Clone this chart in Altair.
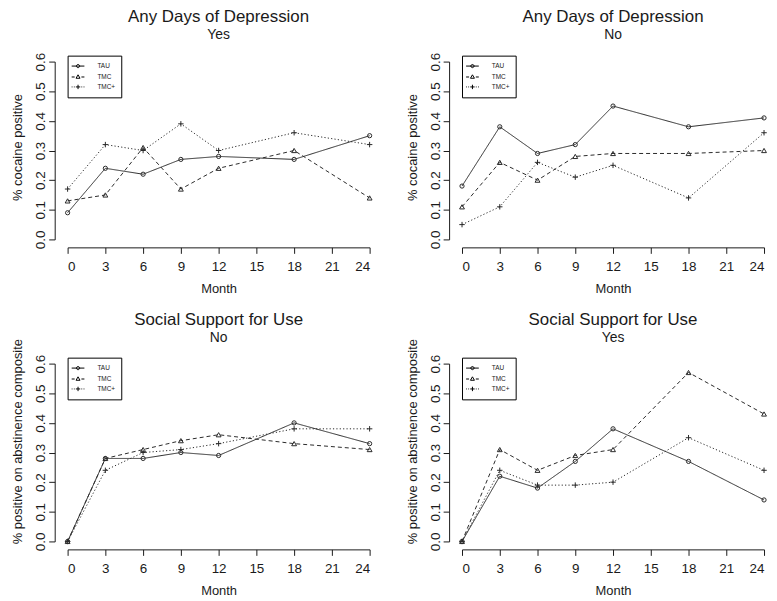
import altair as alt
import pandas as pd

months = [0, 3, 6, 9, 12, 18, 24]
groups = ["TAU", "TMC", "TMC+"]

dep_yes_tau = [0.09, 0.24, 0.22, 0.27, 0.28, 0.27, 0.35]
dep_yes_tmc = [0.13, 0.15, 0.31, 0.17, 0.24, 0.30, 0.14]
dep_yes_tmcp = [0.17, 0.32, 0.30, 0.39, 0.30, 0.36, 0.32]

dep_no_tau = [0.18, 0.38, 0.29, 0.32, 0.45, 0.38, 0.41]
dep_no_tmc = [0.11, 0.26, 0.20, 0.28, 0.29, 0.29, 0.30]
dep_no_tmcp = [0.05, 0.11, 0.26, 0.21, 0.25, 0.14, 0.36]

soc_no_tau = [0.00, 0.28, 0.28, 0.30, 0.29, 0.40, 0.33]
soc_no_tmc = [0.00, 0.28, 0.31, 0.34, 0.36, 0.33, 0.31]
soc_no_tmcp = [0.00, 0.24, 0.30, 0.31, 0.33, 0.38, 0.38]

soc_yes_tau = [0.00, 0.22, 0.18, 0.27, 0.38, 0.27, 0.14]
soc_yes_tmc = [0.00, 0.31, 0.24, 0.29, 0.31, 0.57, 0.43]
soc_yes_tmcp = [0.00, 0.24, 0.19, 0.19, 0.20, 0.35, 0.24]

x_ticks = [0, 3, 6, 9, 12, 15, 18, 21, 24]
y_ticks = [0.0, 0.1, 0.2, 0.3, 0.4, 0.5, 0.6]

FONT = "Liberation Sans"
INK = "#1a1a1a"
LINE = "#2a2a2a"

PLUS = "M-1,0H1M0,-1V1"
LEG_TAU = "M-1.6,0H1.6M0.4,0A0.4,0.4 0 1,1 -0.4,0A0.4,0.4 0 1,1 0.4,0Z"
LEG_TMC = "M-1.6,0H-0.85M0.85,0H1.6M0,-0.55L0.5,0.32L-0.5,0.32Z"
LEG_TMCP = "M-1.6,0H-1.4M-1.05,0H-0.85M0.85,0H1.05M1.4,0H1.6M-0.55,0H0.55M0,-0.55V0.55"


def make_df(tau, tmc, tmcp):
    rows = []
    for g, vals in zip(groups, [tau, tmc, tmcp]):
        for m, v in zip(months, vals):
            rows.append({"Month": m, "value": v, "group": g})
    return pd.DataFrame(rows)


def panel(df, title, subtitle, ytitle, title_y, title_offset):
    x = alt.X(
        "Month:Q",
        scale=alt.Scale(domain=[0, 24], nice=False, zero=False),
        axis=alt.Axis(values=x_ticks, title="Month", offset=8, tickSize=6,
                      labelPadding=6, titlePadding=10, grid=False, format="d"),
    )
    y = alt.Y(
        "value:Q",
        scale=alt.Scale(domain=[0, 0.6], nice=False, zero=False),
        axis=alt.Axis(values=y_ticks, format=".1f", title=ytitle, offset=13,
                      tickSize=6, labelAngle=270, labelAlign="center",
                      labelBaseline="alphabetic", labelPadding=4,
                      titlePadding=9, titleY=title_y, grid=False),
    )
    base = alt.Chart(df)
    lines = base.mark_line(color=LINE, strokeWidth=1).encode(
        x=x, y=y,
        strokeDash=alt.StrokeDash(
            "group:N",
            scale=alt.Scale(domain=groups, range=[[1, 0], [4, 3], [1.2, 2.2]]),
            legend=None,
        ),
    )
    points = base.mark_point(filled=False, color=LINE, strokeWidth=1,
                             opacity=1).encode(
        x=x, y=y,
        shape=alt.Shape(
            "group:N",
            scale=alt.Scale(domain=groups, range=["circle", "triangle-up", PLUS]),
            legend=None,
        ),
        size=alt.Size("group:N",
                      scale=alt.Scale(domain=groups, range=[18, 30, 36]),
                      legend=None),
    )
    legend_layer = base.mark_point(filled=False, color="black", strokeWidth=1,
                                   opacity=1).encode(
        x=x, y=y,
        shape=alt.Shape(
            "group:N",
            scale=alt.Scale(domain=groups, range=[LEG_TAU, LEG_TMC, LEG_TMCP]),
            legend=alt.Legend(
                title=None, orient="none", legendX=0, legendY=-6,
                padding=6, rowPadding=2, labelOffset=15,
                labelExpr="datum.label + '        '",
                labelFont=FONT, labelFontSize=6.5, labelColor=INK,
                strokeColor="black", symbolSize=64, symbolStrokeWidth=1,
                symbolStrokeColor="black", symbolFillColor="transparent",
            ),
        ),
    ).transform_filter("false")
    return alt.layer(lines, points, legend_layer).resolve_scale(
        shape="independent", size="independent", strokeDash="independent"
    ).properties(
        width=304, height=179,
        title=alt.TitleParams(
            text=title, subtitle=[subtitle], anchor="middle",
            font=FONT, subtitleFont=FONT, fontSize=17, subtitleFontSize=14,
            fontWeight="normal", color=INK, subtitleColor=INK,
            offset=title_offset, subtitlePadding=2.1,
        ),
    )


p1 = panel(make_df(dep_yes_tau, dep_yes_tmc, dep_yes_tmcp),
           "Any Days of Depression", "Yes", "% cocaine positive", 86, 9.5)
p2 = panel(make_df(dep_no_tau, dep_no_tmc, dep_no_tmcp),
           "Any Days of Depression", "No", "% cocaine positive", 86, 9.5)
p3 = panel(make_df(soc_no_tau, soc_no_tmc, soc_no_tmcp),
           "Social Support for Use", "No", "% positive on abstinence composite",
           78, -8)
p4 = panel(make_df(soc_yes_tau, soc_yes_tmc, soc_yes_tmcp),
           "Social Support for Use", "Yes", "% positive on abstinence composite",
           78, -8)

chart = alt.concat(p1, p2, p3, p4, columns=2).properties(
    spacing={"row": 125, "column": 93},
    bounds="flush",
    padding={"left": 3, "top": -2, "right": 0, "bottom": 0},
    background="white",
).resolve_scale(
    shape="independent", size="independent", strokeDash="independent",
    x="independent", y="independent",
).resolve_legend(shape="independent").configure_view(
    stroke=None
).configure_axis(
    domainColor=INK, tickColor=INK, labelColor=INK, titleColor=INK,
    labelFont=FONT, titleFont=FONT, labelFontSize=13.5, titleFontSize=13,
    titleFontWeight="normal", domainWidth=1, tickWidth=1,
)

chart.save("out.html", embed_options={"renderer": "svg", "actions": False})
